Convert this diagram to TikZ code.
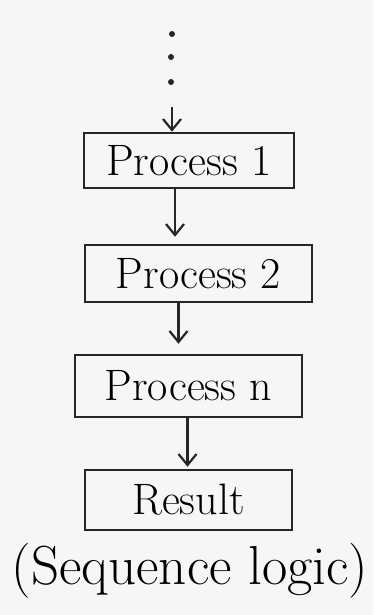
\documentclass[tikz,border=0pt]{standalone}
\usetikzlibrary{arrows.meta}
\begin{document}
\begin{tikzpicture}[x=1pt,y=-1pt,
  ink/.style={draw=black!85, line width=2.5pt},
  procbox/.style={ink, rectangle, inner sep=0pt, font=\fontsize{44}{48}\selectfont},
  arr/.style={ink, -{Straight Barb[length=11pt,width=18pt,line width=2.2pt]}},
  dotmark/.style={circle, fill=black!85, inner sep=0pt, minimum size=6pt}]
\fill[white!93!gray] (0,0) rectangle (373,615);
\useasboundingbox (0,0) rectangle (373,615);
% dots
\node[dotmark] (d1) at (172,34) {};
\node[dotmark] (d2) at (171,57) {};
\node[dotmark] (d3) at (171,82) {};
\coordinate (s0) at (172,107);
% boxes
\node[procbox, minimum width=210pt, minimum height=55pt] (p1) at (189,160.5) {Process 1};
\node[procbox, minimum width=227pt, minimum height=57pt] (p2) at (198.5,273.5) {Process 2};
\node[procbox, minimum width=227pt, minimum height=62pt] (p3) at (188.5,386) {Process n};
\node[procbox, minimum width=207pt, minimum height=60pt] (p4) at (188.5,500) {Result};
\node[font=\fontsize{55}{60}\selectfont, inner sep=0pt] (cap) at (190,571) {(Sequence logic)};
% arrows
\draw[arr] (s0) -- (s0 |- p1.north);
\draw[arr, shorten >=7pt] ([xshift=-14pt]p1.south) -- ([xshift=-14pt]p1.south |- p2.north);
\draw[arr, shorten >=10pt] ([xshift=-20pt]p2.south) -- ([xshift=-20pt]p2.south |- p3.north);
\draw[arr, shorten >=2pt] ([xshift=-1pt]p3.south) -- ([xshift=-1pt]p3.south |- p4.north);
\end{tikzpicture}
\end{document}
